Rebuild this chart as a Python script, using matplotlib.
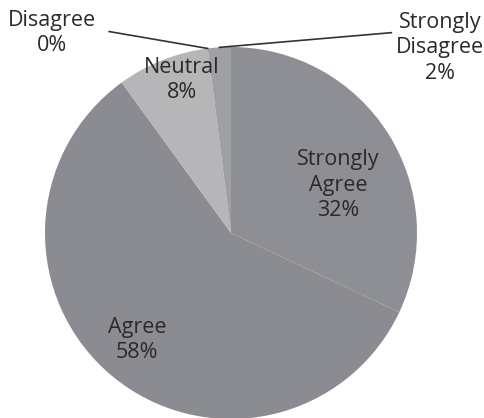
import numpy as np
import matplotlib.pyplot as plt

# Datos del gráfico
categories = ["Strongly\nAgree", "Agree", "Neutral", "Disagree", "Strongly\nDisagree"]
values = [32, 58, 8, 0, 2]
colors = ["#8e8f95", "#8b8c91", "#b6b6b9", "#a5a6a9", "#9fa0a4"]

fig = plt.figure(figsize=(4.85, 4.18), dpi=100)
fig.patch.set_facecolor("white")

# Ejes colocados para que el círculo quede donde está en la referencia
ax = fig.add_axes([45 / 485, -1 / 418, 372 / 485, 372 / 418])
wedges, _ = ax.pie(values, colors=colors, startangle=90, counterclock=False,
                   radius=1.0, wedgeprops=dict(linewidth=0))
ax.set_xlim(-1, 1)
ax.set_ylim(-1, 1)
ax.set_aspect("equal")
ax.axis("off")

font = dict(family=["Open Sans", "DejaVu Sans"], fontsize=15.5, color="#2a2a2a",
            ha="center", va="center", linespacing=1.28)

total = sum(values)
labels = [f"{c}\n{v}%" for c, v in zip(categories, values)]

# Etiquetas dentro del pastel
ax.text(0.575, 0.258, labels[0], **font)
ax.text(-0.505, -0.575, labels[1], **font)
ax.text(-0.263, 0.823, labels[2], **font)

# Etiquetas fuera con líneas guía
def edge_point(idx):
    start = sum(values[:idx]) / total
    mid = start + values[idx] / total / 2
    ang = np.deg2rad(90 - 360 * mid)
    return np.cos(ang), np.sin(ang)

x, y = edge_point(3)
ax.plot([x, -0.655], [y, 1.083], color="#333333", lw=1.2, clip_on=False)
ax.text(-0.962, 1.075, labels[3], clip_on=False, **font)

x, y = edge_point(4)
ax.plot([x, 0.862], [y, 1.077], color="#333333", lw=1.2, clip_on=False)
ax.text(1.124, 0.995, labels[4], clip_on=False, **font)

fig.savefig("out.png", dpi=100, facecolor="white")
